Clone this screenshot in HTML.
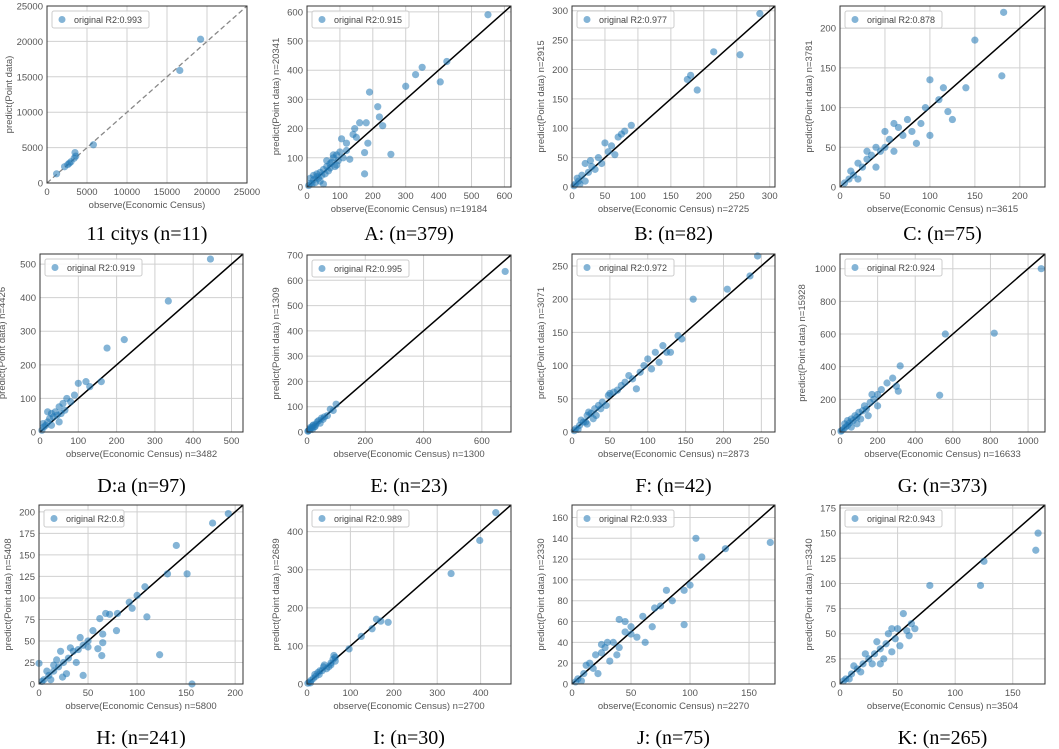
<!DOCTYPE html>
<html><head><meta charset="utf-8"><style>
html,body{margin:0;padding:0;background:#fff}
svg{display:block}
</style></head><body>
<svg id="fig" width="1059" height="749" xmlns="http://www.w3.org/2000/svg"></svg>
<script>
const panelIds=["p0","A","B","C","D","E","F","G","H","I","J","K"];
const captions=["11 citys (n=11)","A: (n=379)","B: (n=82)","C: (n=75)","D:a (n=97)","E: (n=23)","F: (n=42)","G: (n=373)","H: (n=241)","I: (n=30)","J: (n=75)","K: (n=265)"];
const r2Labels=["0.993","0.915","0.977","0.878","0.919","0.995","0.972","0.924","0.8","0.989","0.933","0.943"];
const predictN=["","20341","2915","3781","4426","1309","3071","15928","5408","2689","2330","3340"];
const observeN=["","19184","2725","3615","3482","1300","2873","16633","5800","2700","2270","3504"];
const axisMax=[25000,620,308,228,530,700,268,1090,208,470,172,178];
const xTicks=[[0,5000,10000,15000,20000,25000],[0,100,200,300,400,500,600],[0,50,100,150,200,250,300],[0,50,100,150,200],[0,100,200,300,400,500],[0,200,400,600],[0,50,100,150,200,250],[0,200,400,600,800,1000],[0,50,100,150,200],[0,100,200,300,400],[0,50,100,150],[0,50,100,150]];
const yTicks=[[0,5000,10000,15000,20000,25000],[0,100,200,300,400,500,600],[0,50,100,150,200,250,300],[0,50,100,150,200],[0,100,200,300,400,500],[0,100,200,300,400,500,600,700],[0,50,100,150,200,250],[0,200,400,600,800,1000],[0,25,50,75,100,125,150,175,200],[0,100,200,300,400],[0,20,40,60,80,100,120,140,160],[0,25,50,75,100,125,150,175]];
const obs=[
[1200,2200,2600,2800,3000,3400,3500,3600,5800,16600,19200],
[550,425,350,330,300,405,190,215,220,230,255,175,175,185,160,145,180,105,120,130,100,90,80,70,60,50,40,30,20,10,5,15,25,35,45,55,65,75,85,95,110,120,140,150,30,40,50,20,10,60,70,80,90],
[285,255,215,180,175,190,90,70,75,60,50,40,45,30,20,25,15,10,5,8,12,35,55,65,80,20,28,3],
[182,150,180,140,100,110,115,125,90,95,85,75,70,60,55,50,45,40,35,30,25,20,15,10,5,12,65,50,40,30,80,100,120,60,20],
[445,335,220,175,160,120,100,90,70,60,50,40,30,25,20,15,10,5,35,45,55,65,80,130,8,20,30,50],
[680,100,90,50,40,30,25,20,15,10,5,8,35,45,60,12,18,22,28,3,55,70,80],
[245,235,205,160,145,130,120,110,100,90,85,75,65,55,50,40,35,30,25,20,15,10,5,20,28,45,60,70,80,95,115,125,12,8,18,3,38,48,105,140,32,22],
[1070,820,560,530,320,300,310,280,250,200,180,160,140,120,100,90,80,70,60,50,40,30,20,10,5,150,130,110,60,40,25,200,220,170,90],
[193,177,140,151,131,108,100,92,95,110,123,156,0,80,72,68,79,62,65,65,55,60,64,45,50,42,40,35,30,25,20,15,10,5,22,38,28,18,12,8,32,45,50,3,24,15],
[435,398,332,187,170,160,150,125,97,62,65,60,55,50,40,35,30,25,20,15,10,5,45,38,28,18,8,2,55,65],
[168,130,110,105,100,95,95,80,75,70,60,55,50,45,40,35,30,28,25,20,18,15,10,5,22,40,45,62,85,12,8,3,32,50,38,68,25],
[172,170,125,122,78,62,60,58,55,52,48,45,40,35,30,25,20,15,10,5,38,32,28,22,18,12,42,50,65,8,3,35,45]];
const pred=[
[1300,2300,2600,2800,3000,3500,4300,3800,5400,15900,20300],
[590,430,410,385,345,360,325,275,240,210,112,45,118,150,220,200,220,165,150,95,120,110,100,80,70,60,50,35,25,12,5,10,15,30,40,45,55,85,70,90,100,125,180,170,45,20,10,40,30,90,65,110,75],
[295,225,230,190,183,165,105,85,90,70,75,50,40,35,40,25,20,10,5,15,5,30,60,55,95,10,45,2],
[220,185,140,125,135,110,125,85,80,100,55,85,65,80,60,70,45,50,40,35,25,30,15,10,5,20,75,50,25,45,70,65,95,45,10],
[515,390,275,250,150,150,145,110,100,85,75,60,55,40,30,20,15,5,45,50,55,65,90,135,25,60,20,30],
[635,110,85,55,45,30,20,25,15,12,5,8,40,35,60,18,10,28,22,3,50,65,90],
[265,235,215,200,140,120,130,120,110,90,65,85,70,60,58,45,40,35,28,25,15,10,5,12,20,40,63,75,80,100,105,120,18,4,15,2,35,55,95,145,25,30],
[1000,605,600,225,405,280,250,330,300,230,200,180,140,130,120,90,100,70,80,55,40,30,20,10,5,100,160,80,30,70,50,160,260,230,50],
[198,187,161,128,128,113,103,95,88,78,34,0,24,82,81,82,62,76,58,48,62,41,33,10,50,54,40,38,30,25,20,15,10,5,38,25,12,28,5,15,42,45,43,3,8,22],
[450,377,290,162,165,170,145,125,92,75,60,65,50,45,50,35,35,30,20,15,10,5,40,45,25,25,3,2,55,70],
[136,130,122,140,95,90,57,90,75,73,65,45,55,50,62,40,40,35,30,28,15,20,10,5,10,35,60,40,80,18,3,2,22,48,28,55,38],
[150,133,122,98,98,60,48,53,70,38,45,55,40,35,30,25,20,15,10,5,25,42,20,30,12,18,50,55,55,5,3,20,32]];
const boxes=[[47,6,200,177],[307,6,204,181],[572,6,203,181],[840,6,205,181],[40,254,203,178],[307,255,204,177],[572,254,203,178],[840,254,205,178],[39,505,204,179],[307,505,204,179],[572,505,203,179],[840,505,205,179]];
const capY=[240,492,744];
const NS="http://www.w3.org/2000/svg";
const svg=document.getElementById('fig');
function mk(tag,attrs,parent){const e=document.createElementNS(NS,tag);for(const k in attrs)e.setAttribute(k,attrs[k]);parent.appendChild(e);return e;}
const F='"Liberation Sans", "DejaVu Sans", sans-serif';
for(let p=0;p<12;p++){
  const [bx,by,bw,bh]=boxes[p];const m=axisMax[p];
  const sx=v=>bx+v/m*bw, sy=v=>by+bh-v/m*bh;
  const g=mk('g',{},svg);
  
  
  xTicks[p].forEach(t=>{const X=sx(t);
    const l=mk('line',{x1:X,x2:X,y1:by,y2:by+bh,stroke:'#d0d0d0','stroke-width':1},g);
    
    const tx=mk('text',{x:X,y:by+bh+12,'font-size':9.5,'font-family':F,fill:'#555','text-anchor':'middle'},g);tx.textContent=t;
    });
  yTicks[p].forEach(t=>{const Y=sy(t);
    const l=mk('line',{x1:bx,x2:bx+bw,y1:Y,y2:Y,stroke:'#d0d0d0','stroke-width':1},g);
    
    const tx=mk('text',{x:bx-4,y:Y+3.5,'font-size':9.5,'font-family':F,fill:'#555','text-anchor':'end'},g);tx.textContent=t;
    });
  const diag=mk('line',{x1:sx(0),y1:sy(0),x2:sx(m),y2:sy(m),stroke:p==0?'#888':'#000','stroke-width':p==0?1.3:1.5},g);
  if(p==0)diag.setAttribute('stroke-dasharray','5,3');
  
  for(let i=0;i<obs[p].length;i++){
    const c=mk('circle',{cx:sx(obs[p][i]),cy:sy(pred[p][i]),r:3.6,fill:'#1f77b4','fill-opacity':0.55},g);
    }
  const fr=mk('rect',{x:bx,y:by,width:bw,height:bh,fill:'none',stroke:'#333','stroke-width':1},g);
  
  const lg=mk('g',{},g);
  const lw=p==8?80:97;
  mk('rect',{x:bx+5,y:by+5,width:lw,height:17,rx:2,fill:'#fff','fill-opacity':0.85,stroke:'#ccc'},lg);
  mk('circle',{cx:bx+15,cy:by+13.5,r:3.5,fill:'#1f77b4','fill-opacity':0.55},lg);
  const lt=mk('text',{x:bx+27,y:by+17,'font-size':9,'font-family':F,fill:'#444'},lg);lt.textContent='original R2:'+r2Labels[p];
  const xl=mk('text',{x:bx+bw/2,y:by+bh+25,'font-size':9.5,'font-family':F,fill:'#555','text-anchor':'middle'},g);
  xl.textContent='observe(Economic Census)'+(observeN[p]?' n='+observeN[p]:'');
  
  const yx=bx-(p==0||p==7||p==4?35:28), yy=by+bh/2;
  const yl=mk('text',{x:yx,y:yy,'font-size':9.5,'font-family':F,fill:'#555','text-anchor':'middle',transform:`rotate(-90 ${yx} ${yy})`},g);
  yl.textContent='predict(Point data)'+(predictN[p]?' n='+predictN[p]:'');
  
  const cap=mk('text',{x:bx+bw/2,y:capY[Math.floor(p/4)],'font-size':20,'font-family':'"Liberation Serif", serif',fill:'#000','text-anchor':'middle'},g);
  cap.textContent=captions[p];
  
}
</script>
</body></html>
